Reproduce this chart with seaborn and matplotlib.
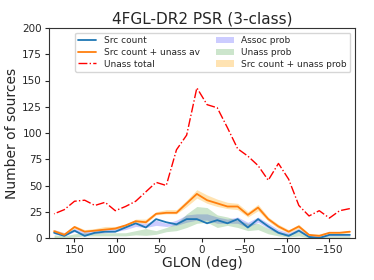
import numpy as np
import pandas as pd
import matplotlib
matplotlib.use("Agg")
import matplotlib.pyplot as plt
import seaborn as sns

glon = [174, 162, 150, 138, 126, 114, 102, 90, 78, 66, 54, 42, 30, 18, 6,
        -6, -18, -30, -42, -54, -66, -78, -90, -102, -114, -126, -138, -150, -162, -174]

src_count = [5, 2, 7, 2, 5, 6, 6, 10, 14, 10, 18, 15, 13, 18, 18,
             14, 17, 14, 18, 10, 18, 11, 5, 2, 7, 1, 0, 3, 3, 3]
src_unass_av = [6.5, 3, 10.5, 6, 7, 8, 9, 12, 16, 15, 23, 24, 24, 33, 42,
                36, 33, 30, 30, 22, 29, 18, 11, 6, 11, 3, 2, 5, 5, 6]
unass_total = [23, 27, 35, 36, 31, 34, 26, 30, 35, 44, 53, 50, 84, 98, 143,
               127, 124, 105, 85, 78, 69, 55, 71, 56, 31, 21, 26, 19, 26, 28]

assoc_lo = [4, 2, 6, 3, 4, 5, 6, 8, 11, 10, 12, 11, 12, 15, 17,
            17, 14, 14, 14, 10, 15, 9, 4, 2, 6, 1, 0, 2, 2, 2]
assoc_hi = [8, 5, 9, 6, 8, 9, 9, 12, 15, 14, 17, 14, 17, 22, 23,
            23, 20, 18, 20, 15, 20, 14, 8, 5, 9, 3, 2, 4, 4, 4]
unass_lo = [0, 0, 1, 2, 2, 2, 2, 2, 3, 2.5, 3.5, 6, 7, 10, 14,
            15, 10, 12, 10, 7, 8, 4, 2, 1, 2, 0, 0, 0, 0, 0]
unass_hi = [3, 2, 4, 5, 5, 5, 5, 5, 7, 9, 7, 10, 14, 23, 30,
            29, 22, 20, 17, 14, 14, 9, 6, 4, 6, 2, 1, 2, 2, 2]
prob_lo = [6, 3, 9, 6, 7, 8, 8, 11, 15, 14, 22, 23, 23, 30, 38,
           33, 30, 28, 27, 20, 26, 16, 9, 5, 9, 2, 2, 4, 4, 5]
prob_hi = [8, 5, 12, 8, 9, 11, 11, 13, 18, 18, 25, 27, 27, 36, 46,
           41, 37, 34, 33, 25, 32, 20, 13, 8, 13, 4, 4, 6, 6, 7]

df = pd.DataFrame({"glon": glon, "src": src_count, "av": src_unass_av, "tot": unass_total})

sns.set_style("ticks")
plt.rcParams["font.family"] = ["DejaVu Sans"]
fig = plt.figure(figsize=(3.74, 2.8), dpi=100)
ax = fig.add_axes([0.131, 0.15, 0.818, 0.75])

sns.lineplot(data=df, x="glon", y="src", ax=ax, color="C0", lw=1.3, label="Src count")
sns.lineplot(data=df, x="glon", y="av", ax=ax, color="C1", lw=1.3, label="Src count + unass av")
sns.lineplot(data=df, x="glon", y="tot", ax=ax, color="r", lw=1.0, ls="-.", label="Unass total")
ax.fill_between(glon, assoc_lo, assoc_hi, color="b", alpha=0.2, lw=0, label="Assoc prob")
ax.fill_between(glon, unass_lo, unass_hi, color="g", alpha=0.2, lw=0, label="Unass prob")
ax.fill_between(glon, prob_lo, prob_hi, color="orange", alpha=0.3, lw=0, label="Src count + unass prob")

ax.set_xlim(180, -180)
ax.set_ylim(0, 200)
ax.set_xticks([150, 100, 50, 0, -50, -100, -150])
ax.set_yticks([0, 25, 50, 75, 100, 125, 150, 175, 200])
ax.tick_params(labelsize=7.5, length=3, pad=2)
ax.set_xlabel("GLON (deg)", fontsize=10, labelpad=1)
ax.set_ylabel("Number of sources", fontsize=10, labelpad=2)
ax.set_title("4FGL-DR2 PSR (3-class)", fontsize=11, pad=3)
for s in ax.spines.values():
    s.set_color("#333333")
ax.legend(ncol=2, fontsize=6.5, loc="upper right", framealpha=0.8,
          handlelength=2.0, columnspacing=1.8, borderpad=0.4, labelspacing=0.3)

fig.savefig("out.png", dpi=100)
